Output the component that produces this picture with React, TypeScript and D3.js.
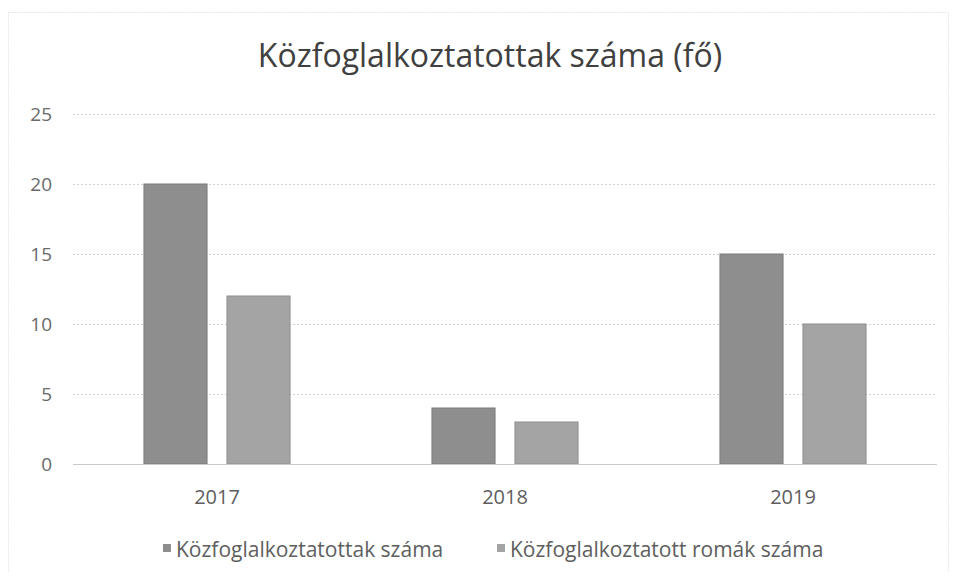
import React, { useEffect, useRef } from 'react';
import * as d3 from 'd3';

const years = ['2017', '2018', '2019'];
const seriesNames = ['Közfoglalkoztatottak száma', 'Közfoglalkoztatott romák száma'];
const totalValues = [20, 4, 15];
const romaValues = [12, 3, 10];
const yTicks = [0, 5, 10, 15, 20, 25];
const title = 'Közfoglalkoztatottak száma (fő)';

const colors = ['#8e8e8e', '#a4a4a4'];
const font = "'Open Sans', 'Noto Sans', sans-serif";

const App = () => {
  const svgRef = useRef<SVGSVGElement>(null);

  useEffect(() => {
    const width = 959;
    const height = 580;
    const margin = { top: 114, right: 22, bottom: 116, left: 73 };

    const svg = d3.select(svgRef.current);
    svg.selectAll('*').remove();
    svg.attr('width', width).attr('height', height);

    svg.append('rect')
      .attr('width', width).attr('height', height).attr('fill', '#fff');

    svg.append('rect')
      .attr('x', 8.5).attr('y', 12.5)
      .attr('width', 940).attr('height', 562)
      .attr('fill', 'none').attr('stroke', '#e8e8e8').attr('stroke-dasharray', '2,1');

    const data = years.map((y, i) => ({ year: y, values: [totalValues[i], romaValues[i]] }));

    const x0 = d3.scaleBand()
      .domain(years)
      .range([margin.left, width - margin.right])
      .padding(0);

    const x1 = d3.scaleBand()
      .domain(['0', '1'])
      .range([0, x0.bandwidth()])
      .paddingInner(0.24)
      .paddingOuter(0.855);

    const y = d3.scaleLinear()
      .domain([0, 25])
      .range([height - margin.bottom, margin.top]);

    // gridlines
    svg.append('g')
      .selectAll('line')
      .data(yTicks.filter(t => t > 0))
      .enter().append('line')
      .attr('x1', margin.left)
      .attr('x2', width - margin.right)
      .attr('y1', d => y(d) + 0.5)
      .attr('y2', d => y(d) + 0.5)
      .attr('stroke', '#d2d2d2')
      .attr('stroke-dasharray', '2,2');

    // y tick labels
    svg.append('g')
      .selectAll('text')
      .data(yTicks)
      .enter().append('text')
      .attr('x', 52)
      .attr('y', d => y(d))
      .attr('dy', '0.35em')
      .attr('text-anchor', 'end')
      .attr('fill', '#6a6a6a')
      .style('font-family', font)
      .style('font-size', '19px')
      .text(d => d);

    // bars
    svg.append('g')
      .selectAll('g')
      .data(data)
      .enter().append('g')
      .attr('transform', d => `translate(${x0(d.year)},0)`)
      .selectAll('rect')
      .data(d => d.values)
      .enter().append('rect')
      .attr('x', (_d, i) => x1(String(i)) as number)
      .attr('width', x1.bandwidth())
      .attr('y', d => y(d))
      .attr('height', d => y(0) - y(d))
      .attr('fill', (_d, i) => colors[i])
      .attr('stroke', (_d, i) => d3.color(colors[i])!.darker(0.4).toString())
      .attr('stroke-width', 1);

    // baseline
    svg.append('line')
      .attr('x1', margin.left)
      .attr('x2', width - margin.right)
      .attr('y1', y(0) + 0.5)
      .attr('y2', y(0) + 0.5)
      .attr('stroke', '#c8c8c8');

    // x labels
    svg.append('g')
      .selectAll('text')
      .data(years)
      .enter().append('text')
      .attr('x', d => (x0(d) as number) + x0.bandwidth() / 2)
      .attr('y', 504)
      .attr('text-anchor', 'middle')
      .attr('fill', '#5e5e5e')
      .style('font-family', font)
      .style('font-size', '20px')
      .text(d => d);

    // title
    svg.append('text')
      .attr('x', 490)
      .attr('y', 67)
      .attr('text-anchor', 'middle')
      .attr('fill', '#404040')
      .style('font-family', font)
      .style('font-size', '32px')
      .text(title);

    // legend
    const legendX = [163, 497];
    const legend = svg.append('g')
      .selectAll('g')
      .data(seriesNames)
      .enter().append('g')
      .attr('transform', (_d, i) => `translate(${legendX[i]},557)`);

    legend.append('rect')
      .attr('x', 0).attr('y', -13)
      .attr('width', 8).attr('height', 8)
      .attr('fill', (_d, i) => colors[i]);

    legend.append('text')
      .attr('x', 13)
      .attr('y', 0)
      .attr('fill', '#5e5e5e')
      .style('font-family', font)
      .style('font-size', '21px')
      .text(d => d);
  }, []);

  return <svg ref={svgRef} style={{ display: 'block', margin: '-8px' }}></svg>;
};

export default App;
